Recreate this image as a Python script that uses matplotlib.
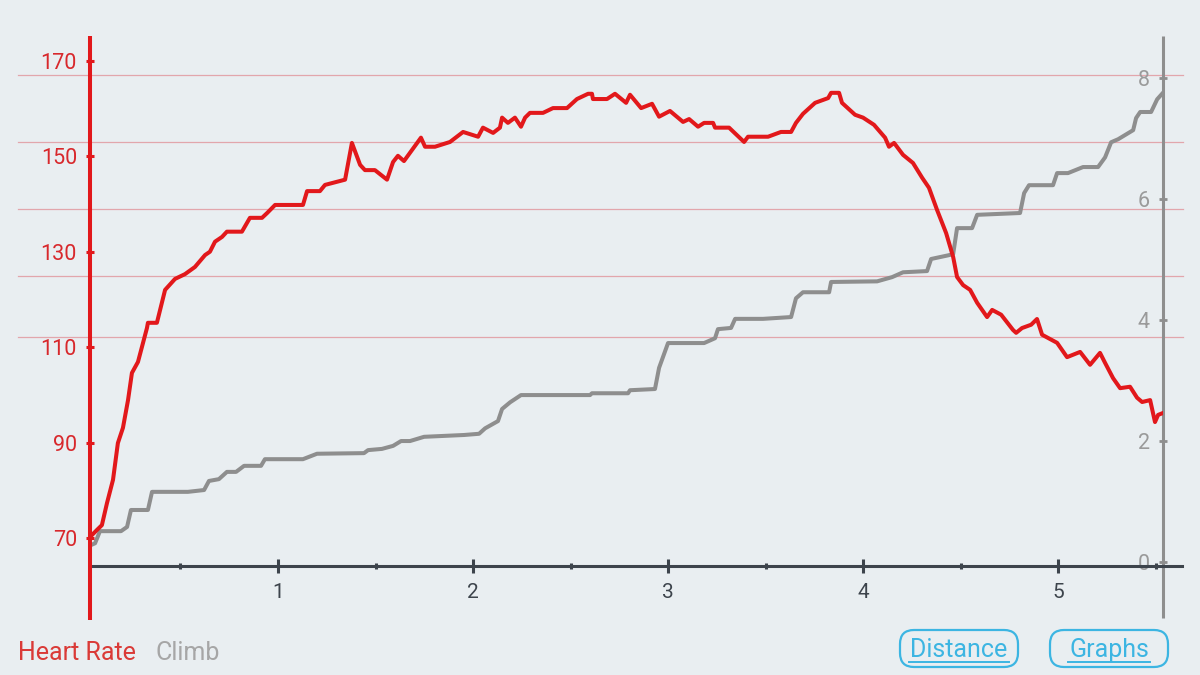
import matplotlib
matplotlib.use('Agg')
import matplotlib.pyplot as plt
import matplotlib.transforms as mtransforms
from matplotlib.patches import FancyBboxPatch
from matplotlib.lines import Line2D

plt.rcParams['font.family'] = ['Roboto', 'DejaVu Sans']

# heart rate trace (distance km, bpm)
hr_dist = [0.036, 0.072, 0.097, 0.123, 0.154, 0.179, 0.205, 0.231, 0.251, 0.282,
           0.328, 0.333, 0.379, 0.421, 0.472, 0.523, 0.574, 0.626, 0.651, 0.677,
           0.713, 0.738, 0.815, 0.856, 0.918, 0.944, 0.985, 1.128, 1.149, 1.215,
           1.241, 1.344, 1.379, 1.421, 1.446, 1.497, 1.559, 1.590, 1.615, 1.646,
           1.733, 1.754, 1.805, 1.882, 1.949, 2.026, 2.051, 2.103, 2.138, 2.149,
           2.179, 2.215, 2.246, 2.267, 2.292, 2.359, 2.410, 2.482, 2.533, 2.590,
           2.610, 2.615, 2.687, 2.728, 2.785, 2.805, 2.862, 2.918, 2.954, 3.010,
           3.077, 3.108, 3.154, 3.185, 3.231, 3.241, 3.313, 3.390, 3.410, 3.513,
           3.579, 3.631, 3.656, 3.692, 3.754, 3.821, 3.836, 3.877, 3.892, 3.959,
           4.000, 4.056, 4.113, 4.133, 4.159, 4.205, 4.256, 4.303, 4.338, 4.379,
           4.426, 4.462, 4.482, 4.513, 4.549, 4.585, 4.636, 4.662, 4.708, 4.769,
           4.785, 4.815, 4.862, 4.892, 4.918, 4.995, 5.046, 5.113, 5.164, 5.215,
           5.241, 5.282, 5.318, 5.369, 5.405, 5.431, 5.472, 5.497, 5.513, 5.538]
hr_bpm = [70.2, 71.7, 72.7, 77.3, 82.2, 89.9, 93.1, 98.9, 104.6, 106.9,
          114.0, 115.1, 115.1, 122.0, 124.3, 125.3, 126.8, 129.3, 130.0, 132.1,
          133.1, 134.2, 134.2, 137.1, 137.1, 138.1, 139.8, 139.8, 142.7, 142.7,
          144.0, 145.1, 152.8, 148.2, 147.1, 147.1, 145.1, 148.8, 150.1, 149.0,
          153.9, 152.0, 152.0, 153.0, 155.1, 154.1, 156.0, 154.9, 156.0, 158.1,
          157.0, 158.1, 156.2, 158.1, 159.1, 159.1, 160.1, 160.1, 162.0, 163.1,
          163.1, 162.0, 162.0, 163.1, 161.2, 162.9, 160.1, 161.0, 158.3, 159.5,
          157.2, 157.8, 156.2, 157.0, 157.0, 156.0, 156.0, 153.0, 154.1, 154.1,
          155.1, 155.1, 157.0, 158.9, 161.2, 162.2, 163.3, 163.3, 161.2, 158.7,
          158.1, 156.6, 153.9, 152.0, 152.8, 150.3, 148.6, 145.5, 143.4, 138.8,
          133.9, 128.9, 124.7, 123.0, 122.0, 119.3, 116.3, 117.8, 116.8, 113.6,
          113.0, 114.0, 114.7, 115.9, 112.6, 110.9, 107.9, 109.0, 106.3, 108.8,
          106.7, 103.5, 101.4, 101.7, 99.4, 98.5, 98.9, 94.3, 95.8, 96.2]

# climb trace (distance km, climb)
climb_dist = [0.041, 0.062, 0.087, 0.195, 0.226, 0.246, 0.333, 0.354, 0.538, 0.621,
              0.646, 0.697, 0.738, 0.785, 0.826, 0.913, 0.933, 1.128, 1.200, 1.441,
              1.462, 1.533, 1.590, 1.631, 1.677, 1.749, 1.954, 2.031, 2.062, 2.128,
              2.149, 2.190, 2.246, 2.600, 2.610, 2.795, 2.805, 2.933, 2.954, 3.000,
              3.185, 3.241, 3.256, 3.323, 3.344, 3.487, 3.631, 3.656, 3.692, 3.826,
              3.836, 4.072, 4.149, 4.205, 4.328, 4.349, 4.436, 4.462, 4.482, 4.559,
              4.585, 4.805, 4.826, 4.851, 4.974, 4.995, 5.051, 5.128, 5.205, 5.241,
              5.272, 5.308, 5.385, 5.400, 5.421, 5.477, 5.508, 5.533]
climb_val = [0.28, 0.31, 0.51, 0.51, 0.58, 0.86, 0.86, 1.16, 1.16, 1.19,
             1.34, 1.37, 1.49, 1.49, 1.59, 1.59, 1.70, 1.70, 1.79, 1.80,
             1.85, 1.87, 1.92, 2.00, 2.00, 2.07, 2.10, 2.12, 2.21, 2.33,
             2.53, 2.64, 2.76, 2.76, 2.79, 2.79, 2.84, 2.86, 3.21, 3.62,
             3.62, 3.70, 3.85, 3.87, 4.02, 4.02, 4.05, 4.36, 4.46, 4.46,
             4.63, 4.64, 4.71, 4.79, 4.81, 5.01, 5.07, 5.09, 5.52, 5.52,
             5.74, 5.77, 6.10, 6.23, 6.23, 6.43, 6.43, 6.53, 6.53, 6.69,
             6.94, 6.99, 7.14, 7.34, 7.44, 7.44, 7.65, 7.74]

hr_ticks = [70, 90, 110, 130, 150, 170]
climb_ticks = [0, 2, 4, 6, 8]
dist_major = [1, 2, 3, 4, 5]
dist_minor = [0.5, 1.5, 2.5, 3.5, 4.5, 5.5]
grid_bpm = [167.1, 153.0, 139.0, 124.9, 112.1]

BG = '#E9EEF1'
RED = '#E2181B'
RED_TXT = '#D8282C'
GRAY = '#8E8E8E'
GRAY_TXT = '#9A9A9A'
DARK = '#3D444C'
BLUE = '#3CB5E2'

W, H = 1200, 675
fig = plt.figure(figsize=(12, 6.75), dpi=100, facecolor=BG)
rect = [90/W, 1-566/H, (1163-90)/W, (566-37)/H]

axc = fig.add_axes(rect)   # climb, right axis
axh = fig.add_axes(rect)   # heart rate, left axis, on top
for a in (axc, axh):
    a.set_facecolor('none')
    a.set_xlim(0.036, 5.538)
    for s in a.spines.values():
        s.set_visible(False)
axh.set_ylim(64.13, 175.0)
axc.set_ylim(-0.066, 8.68)

# pink guide lines (behind the climb line)
blend = mtransforms.blended_transform_factory(axc.transAxes, axh.transData)
for v in grid_bpm:
    axc.plot([-0.067, 1.019], [v, v], transform=blend, color='#E2A6AC',
             lw=0.9, clip_on=False, zorder=0)

axc.plot(climb_dist, climb_val, color=GRAY, lw=2.9, solid_joinstyle='round', zorder=3)
axh.plot(hr_dist, hr_bpm, color=RED, lw=2.9, solid_joinstyle='round', zorder=3)

# axis lines
axh.plot([0, 1.0177], [0, 0], transform=axh.transAxes, color=DARK, lw=2.2,
         clip_on=False, zorder=2)
axh.plot([0, 0], [1.002, -0.102], transform=axh.transAxes, color=RED, lw=2.9,
         clip_on=False, zorder=4, solid_capstyle='butt')
axc.plot([1, 1], [1.002, -0.098], transform=axc.transAxes, color=GRAY, lw=2.2,
         clip_on=False, zorder=4, solid_capstyle='butt')

# x ticks
axc.set_xticks([])
axh.set_xticks(dist_major)
axh.set_xticks(dist_minor, minor=True)
axh.set_xticklabels([str(v) for v in dist_major])
axh.tick_params(axis='x', which='major', direction='inout', length=9.4, width=2.2,
                color=DARK, labelcolor=DARK, labelsize=15, pad=7.5)
axh.tick_params(axis='x', which='minor', direction='inout', length=5, width=2.2,
                color=DARK)

# left ticks
axh.set_yticks(hr_ticks)
axh.tick_params(axis='y', which='major', direction='inout', length=5.8, width=2.2,
                color=RED, labelcolor=RED_TXT, labelsize=15.5, pad=6.5)

# right ticks, labels inside
axc.yaxis.tick_right()
axc.set_yticks(climb_ticks)
axc.tick_params(axis='y', which='major', direction='inout', length=5.8, width=2.0,
                color=GRAY, labelcolor=GRAY_TXT, labelsize=15.5, pad=-12.3,
                left=False, labelleft=False)
for t in axc.get_yticklabels():
    t.set_horizontalalignment('right')

# series names
fig.text(18/W, 1-653/H, 'Heart Rate', color='#DA3A37', fontsize=18, va='center')
fig.text(155/W, 1-653/H, 'Climb', color='#A6A6A6', fontsize=18, va='center')

# buttons
ident = mtransforms.IdentityTransform()
for label, x0, cx, u0, u1 in [('Distance', 900, 959, 909, 1009),
                              ('Graphs', 1050, 1109, 1068, 1150)]:
    fig.add_artist(FancyBboxPatch((x0, H-667), 118, 37,
                                  boxstyle='round,pad=0,rounding_size=14',
                                  transform=ident, fc='none', ec=BLUE, lw=1.6))
    fig.text(cx/W, 1-650/H, label, color=BLUE, fontsize=18, ha='center', va='center')
    fig.add_artist(Line2D([u0, u1], [H-661.5, H-661.5], transform=ident, color=BLUE, lw=1.4))

fig.savefig('out.png', dpi=100, facecolor=BG)
